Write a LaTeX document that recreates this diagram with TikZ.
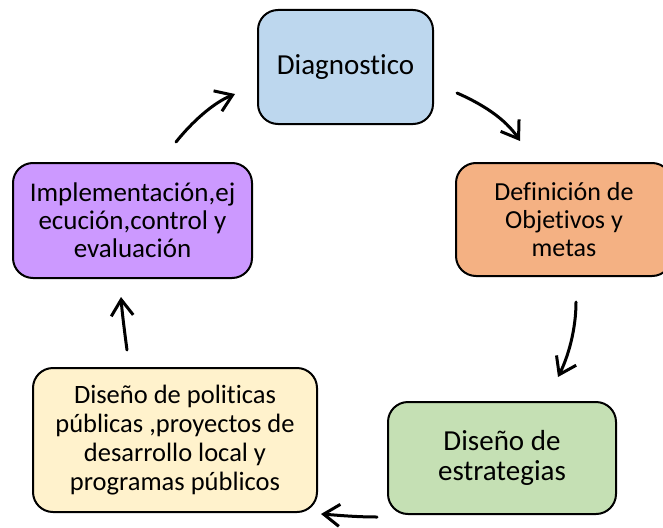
\documentclass[tikz,border=0pt]{standalone}
\usepackage{fontspec}
\setmainfont{Carlito}[Ligatures={NoCommon,NoContextual,NoRequired}]
\usetikzlibrary{arrows.meta}
\definecolor{cdiag}{HTML}{BDD7EE}
\definecolor{cdef}{HTML}{F4B183}
\definecolor{cimpl}{HTML}{CC99FF}
\definecolor{cpol}{HTML}{FFF2CC}
\definecolor{cest}{HTML}{C5E0B4}
\begin{document}
\begin{tikzpicture}[x=1pt,y=-1pt,
  box/.style={draw=black, line width=2pt, rounded corners=20pt, align=center, inner sep=0pt},
  flow/.style={line width=3pt, line cap=round, -{Straight Barb[length=16pt,width=22pt]}}]
\clip (0,0) rectangle (663,527);
\fill[white] (0,0) rectangle (663,527);
\node[box, fill=cdiag, minimum width=175pt, minimum height=114pt,
  font=\fontsize{29}{30}\selectfont] (diag) at (345.5,67) {Diagnostico};
\node[box, fill=cdef, minimum width=216pt, minimum height=113pt,
  font=\fontsize{26}{28}\selectfont] (def) at (564,219.5) {Definición de\\Objetivos y\\metas};
\node[box, fill=cest, minimum width=228pt, minimum height=112pt,
  font=\fontsize{29}{30}\selectfont] (est) at (502,458) {Diseño de\\estrategias};
\node[box, fill=cpol, minimum width=284pt, minimum height=144pt,
  font=\fontsize{26.5}{29}\selectfont] (pol) at (175,440) {Diseño de politicas\\públicas ,proyectos de\\desarrollo local y\\programas públicos};
\node[box, fill=cimpl, minimum width=239pt, minimum height=115pt,
  font=\fontsize{27}{28}\selectfont] (impl) at (132.5,220.5) {Implementación,ej\\ecución,control y\\evaluación};
% arrow end points
\coordinate (a1s) at (176,142); \coordinate (a1e) at (235,94);
\coordinate (a2s) at (457,93);  \coordinate (a2e) at (520,141);
\coordinate (a3s) at (576,302); \coordinate (a3e) at (558,377);
\coordinate (a4s) at (377,517); \coordinate (a4e) at (321,514);
\coordinate (a5s) at (127,350); \coordinate (a5e) at (121,297);
\draw[flow] (a1s) .. controls (192,122) and (213,103) .. (a1e);
\draw[flow] (a2s) .. controls (480,103) and (505,118) .. (a2e);
\draw[flow] (a3s) .. controls (576,330) and (568,357) .. (a3e);
\draw[flow] (a4s) .. controls (355,517) and (335,515) .. (a4e);
\draw[flow] (a5s) .. controls (125,335) and (122,312) .. (a5e);
\end{tikzpicture}
\end{document}
